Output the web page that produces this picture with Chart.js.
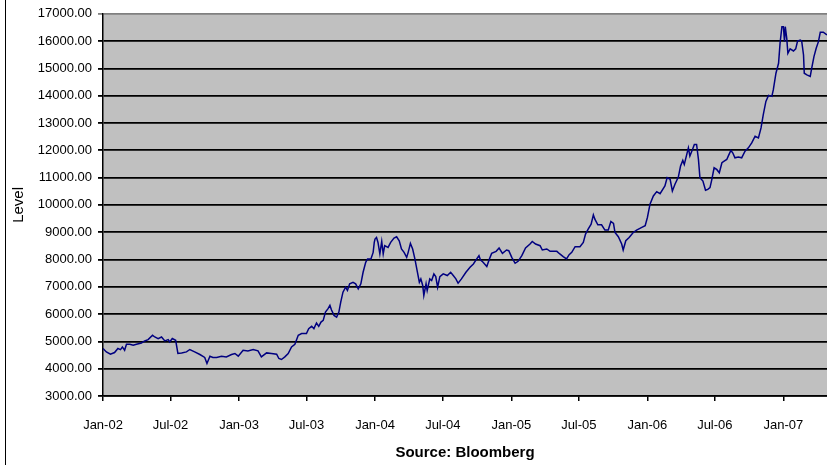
<!DOCTYPE html>
<html>
<head>
<meta charset="utf-8">
<title>Level - Source: Bloomberg</title>
<script src="https://cdn.jsdelivr.net/npm/chart.js@4"></script>
<style>
    html, body { margin: 0; padding: 0; background: #fff; }
    #wrap { width: 827px; height: 465px; position: relative; }
</style>
</head>
<body>
<div id="wrap"><canvas id="levelChart"></canvas></div>
<script>
// days counted from 1 Jan 2002 (roughly weekly)
const days = [
    0, 9, 20, 31, 40, 47, 52, 58, 63, 72, 81, 90, 103, 112, 121, 133, 139, 148, 157, 166,
    175, 179, 186, 195, 201, 211, 224, 233, 246, 260, 273, 279, 287, 295, 305, 318, 331, 345, 354, 363,
    376, 389, 403, 416, 425, 439, 452, 466, 472, 479, 488, 497, 506, 515, 524, 533, 546, 552, 560, 566,
    573, 579, 585, 591, 597, 604, 609, 613, 620, 627, 633, 638, 644, 651, 656, 662, 671, 678, 685, 692,
    698, 705, 710, 719, 725, 728, 730, 734, 738, 743, 748, 752, 756, 765, 772, 781, 788, 795, 801, 808,
    815, 819, 825, 831, 837, 843, 849, 853, 858, 861, 867, 870, 877, 882, 888, 893, 898, 904, 913, 924,
    933, 940, 947, 953, 962, 974, 985, 994, 1003, 1009, 1013, 1020, 1030, 1037, 1043, 1055, 1063, 1072, 1083, 1089,
    1097, 1106, 1114, 1124, 1134, 1146, 1152, 1161, 1173, 1179, 1191, 1200, 1218, 1226, 1235, 1244, 1251, 1258, 1267, 1280,
    1289, 1295, 1302, 1310, 1316, 1320, 1328, 1338, 1347, 1356, 1363, 1370, 1374, 1383, 1392, 1396, 1403, 1412, 1423, 1432,
    1446, 1455, 1461, 1468, 1477, 1486, 1495, 1508, 1514, 1522, 1528, 1535, 1544, 1550, 1556, 1560, 1567, 1571, 1575, 1582,
    1587, 1593, 1598, 1602, 1610, 1617, 1623, 1629, 1634, 1640, 1647, 1654, 1661, 1667, 1674, 1678, 1685, 1690, 1696, 1705,
    1714, 1723, 1732, 1741, 1750, 1759, 1766, 1772, 1779, 1786, 1795, 1799, 1806, 1813, 1817, 1822, 1826, 1829, 1831, 1835,
    1838, 1844, 1853, 1859, 1864, 1871, 1875, 1880, 1882, 1889, 1898, 1902, 1908, 1914, 1920, 1925, 1933, 1943
];
const levels = [
    4740, 4615, 4531, 4593, 4740, 4700, 4797, 4677, 4896, 4896, 4860, 4896, 4943, 5016, 5067, 5224, 5162, 5104, 5162, 5016,
    5067, 4980, 5104, 5042, 4557, 4579, 4615, 4703, 4615, 4520, 4411, 4192, 4458, 4411, 4411, 4458, 4433, 4520, 4557, 4458,
    4677, 4652, 4703, 4652, 4433, 4579, 4557, 4531, 4374, 4338, 4433, 4557, 4797, 4896, 5224, 5285, 5285, 5467, 5552, 5467,
    5673, 5552, 5709, 5771, 6073, 6198, 6318, 6161, 5953, 5891, 6073, 6438, 6802, 6985, 6865, 7109, 7167, 7109, 6927, 7109,
    7532, 7897, 8020, 8020, 8261, 8626, 8750, 8808, 8626, 8203, 8662, 8203, 8506, 8443, 8626, 8786, 8834, 8688, 8385, 8261,
    8079, 8261, 8589, 8385, 8020, 7594, 7167, 7289, 7047, 6682, 7109, 6865, 7289, 7229, 7473, 7375, 6985, 7375, 7473, 7412,
    7532, 7412, 7290, 7131, 7290, 7532, 7714, 7836, 8020, 8141, 7984, 7897, 7740, 8020, 8225, 8298, 8420, 8225, 8349, 8323,
    8079, 7861, 7934, 8141, 8420, 8566, 8662, 8566, 8506, 8349, 8385, 8298, 8298, 8203, 8104, 8020, 8177, 8261, 8469, 8469,
    8626, 8932, 9114, 9296, 9636, 9479, 9271, 9271, 9078, 9078, 9393, 9320, 8991, 8834, 8566, 8349, 8688, 8808, 8991, 9078,
    9174, 9235, 9538, 10026, 10329, 10486, 10413, 10693, 10996, 10936, 10510, 10755, 11021, 11422, 11630, 11483, 11870, 12089, 11787, 12030,
    12212, 12212, 11665, 10996, 10875, 10535, 10571, 10632, 10936, 11360, 11299, 11178, 11543, 11605, 11665, 11787, 11994, 11909, 11726, 11750,
    11726, 11970, 12089, 12271, 12516, 12454, 12819, 13307, 13792, 14011, 13975, 14219, 14824, 15188, 15917, 16527, 16527, 15980, 16527, 16100,
    15553, 15714, 15637, 15714, 16004, 16041, 16004, 15493, 14824, 14765, 14704, 15006, 15433, 15736, 15980, 16328, 16328, 16224
];
const tickDays = [0, 181, 365, 546, 730, 912, 1096, 1277, 1461, 1642, 1826];
const tickLabels = ['Jan-02', 'Jul-02', 'Jan-03', 'Jul-03', 'Jan-04', 'Jul-04', 'Jan-05', 'Jul-05', 'Jan-06', 'Jul-06', 'Jan-07'];

const FONT = '"Liberation Sans", Arial, sans-serif';

// grey plot area and the chart frame line on the left
const plotBackground = {
    id: 'plotBackground',
    beforeDraw(chart) {
        const { ctx, chartArea: a } = chart;
        ctx.save();
        ctx.fillStyle = '#c0c0c0';
        ctx.fillRect(a.left, a.top, a.right - a.left, a.bottom - a.top);
        ctx.strokeStyle = '#000';
        ctx.lineWidth = 1;
        ctx.beginPath();
        ctx.moveTo(5.5, 0);
        ctx.lineTo(5.5, chart.height);
        ctx.stroke();
        ctx.restore();
    }
};

const points = days.map((d, i) => ({ x: d, y: levels[i] }));

new Chart(document.getElementById('levelChart'), {
    type: 'line',
    data: {
        datasets: [{
            data: points,
            borderColor: '#000080',
            borderWidth: 1.5,
            pointRadius: 0,
            tension: 0,
            fill: false
        }]
    },
    options: {
        responsive: true,
        maintainAspectRatio: false,
        animation: false,
        layout: { padding: { top: 12, left: 0, right: 0, bottom: 0 } },
        plugins: {
            legend: { display: false },
            tooltip: { enabled: false }
        },
        scales: {
            x: {
                type: 'linear',
                min: 0,
                max: 1943,
                afterBuildTicks: (scale) => { scale.ticks = tickDays.map(v => ({ value: v })); },
                afterFit: (scale) => { scale.height = 69; },
                grid: { drawOnChartArea: false, drawTicks: true, tickLength: 5, color: '#000', lineWidth: 1.5 },
                border: { color: '#000', width: 1.5 },
                ticks: {
                    autoSkip: false,
                    maxRotation: 0,
                    padding: 17,
                    color: '#000',
                    font: { family: FONT, size: 13 },
                    callback: (v, i) => tickLabels[i]
                },
                title: {
                    display: true,
                    text: 'Source: Bloomberg',
                    color: '#000',
                    font: { family: FONT, size: 15, weight: 'bold' },
                    padding: { top: 0, bottom: 3 }
                }
            },
            y: {
                min: 3000,
                max: 17000,
                afterFit: (scale) => { scale.width = 103; },
                grid: {
                    drawTicks: true,
                    tickLength: 5,
                    lineWidth: 1.8,
                    color: (c) => (c.tick && c.tick.value === 17000 ? '#808080' : '#000')
                },
                border: { color: '#000', width: 1.5 },
                ticks: {
                    stepSize: 1000,
                    padding: 6,
                    color: '#000',
                    font: { family: FONT, size: 13 },
                    callback: (v) => Number(v).toFixed(2)
                },
                title: {
                    display: true,
                    text: 'Level',
                    color: '#000',
                    font: { family: FONT, size: 15 },
                    padding: { top: 10, bottom: 0 }
                }
            }
        }
    },
    plugins: [plotBackground]
});
</script>
</body>
</html>
